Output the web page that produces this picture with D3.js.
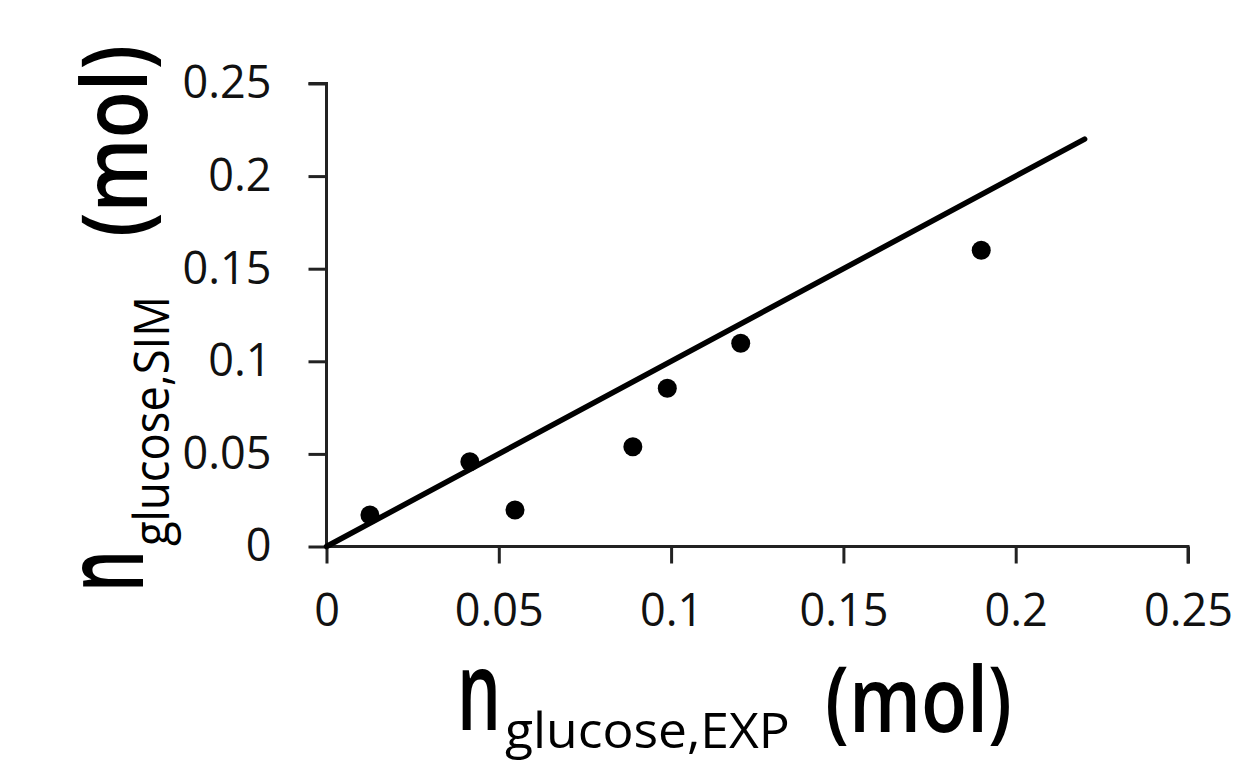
<!DOCTYPE html>
<html><head><meta charset="utf-8">
<script src="https://cdn.jsdelivr.net/npm/d3@7"></script>
<style>body{margin:0;background:#fff}svg{display:block}</style>
</head><body>
<script>
const expValues = [0.0126, 0.0416, 0.0547, 0.0889, 0.0989, 0.1202, 0.190];
const simValues = [0.017, 0.0458, 0.0197, 0.0539, 0.0854, 0.1097, 0.160];
const parityLine = [[0, 0], [0.22, 0.22]];
const tickValues = [0, 0.05, 0.1, 0.15, 0.2, 0.25];
const tickLabels = ["0", "0.05", "0.1", "0.15", "0.2", "0.25"];
const xTitleParts = ["n", "glucose,EXP", "(mol)"];
const yTitleParts = ["n", "glucose,SIM", "(mol)"];

const W = 1248, H = 764;
const svg = d3.select("body").append("svg").attr("width", W).attr("height", H);
const x = d3.scaleLinear().domain([0, 0.25]).range([326.5, 1188]);
const y = d3.scaleLinear().domain([0, 0.25]).range([546.5, 83.5]);
const font = "'Open Sans', sans-serif";

const xAxis = d3.axisBottom(x).tickValues(tickValues).tickFormat((d,i)=>tickLabels[i]).tickSize(17).tickPadding(31);
const gx = svg.append("g").attr("transform", `translate(0,${y(0)})`).call(xAxis);
const yAxis = d3.axisLeft(y).tickValues(tickValues).tickFormat((d,i)=>tickLabels[i]).tickSize(18).tickPadding(37);
const gy = svg.append("g").attr("transform", `translate(${x(0)},0)`).call(yAxis);
[gx, gy].forEach(g => {
  g.select(".domain").attr("stroke", "#222").attr("stroke-width", 3);
  g.selectAll(".tick line").attr("stroke", "#222").attr("stroke-width", 3);
  g.selectAll(".tick text").attr("fill", "#111").style("font-family", font).style("font-size", "45px");
});
gx.select(".domain").attr("d", `M${x(0)},0H${x(0.25)}V17`);
gy.select(".domain").attr("d", `M-18,${y(0.25)}H0V${y(0)}`);

svg.append("path").datum(parityLine)
  .attr("d", d3.line().x(d=>x(d[0])).y(d=>y(d[1])))
  .attr("stroke", "#000").attr("stroke-width", 5.5).attr("fill", "none").attr("stroke-linecap", "round");

svg.append("g").selectAll("circle").data(expValues).join("circle")
  .attr("cx", d=>x(d)).attr("cy", (d,i)=>y(simValues[i])).attr("r", 9.5).attr("fill", "#000");

function piece(parent, txt, size, weight, u0, v, width) {
  const t = parent.append("text").text(txt).attr("fill", "#000")
    .style("font-family", font).style("font-size", size + "px").style("font-weight", weight);
  const bb = t.node().getBBox();
  const s = width / bb.width;
  t.attr("transform", `translate(${u0 - bb.x * s},${v}) scale(${s},1)`);
}
// x title
const xt = svg.append("g");
piece(xt, xTitleParts[0], 110, 600, 457, 730, 44);
piece(xt, xTitleParts[1], 50, 500, 505, 748, 285);
piece(xt, xTitleParts[2], 90, 600, 825, 732, 187);
// y title (rotated, local u = -screenY, v = screen x)
const yt = svg.append("g").attr("transform", "rotate(-90)");
piece(yt, yTitleParts[0], 110, 600, -592, 143, 42);
piece(yt, yTitleParts[1], 50, 500, -546, 169, 250);
piece(yt, yTitleParts[2], 90, 600, -237, 147, 192);
</script>
</body></html>
